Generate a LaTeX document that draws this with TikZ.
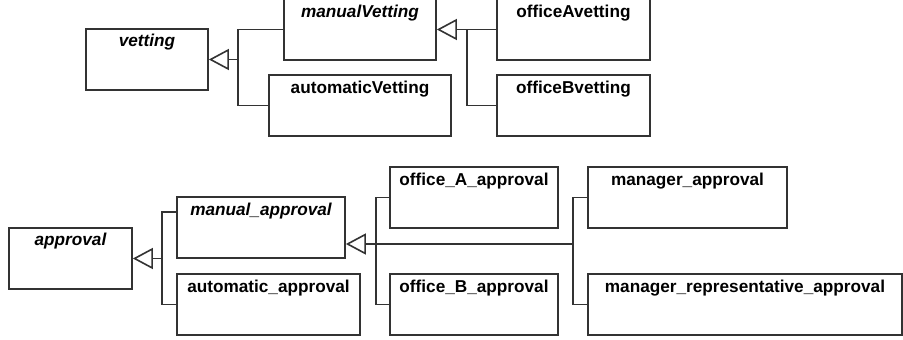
\documentclass[tikz,border=0pt]{standalone}
\usepackage{fontspec}
\setmainfont{Liberation Sans}
\usetikzlibrary{arrows.meta,calc}
\definecolor{umlline}{HTML}{333333}
\tikzset{
  x=1pt, y=-1pt,
  classbox/.style={draw=umlline, line width=1.7pt, fill=white, inner sep=0pt, minimum height=61pt},
  classname/.style={anchor=base, inner sep=0pt, font=\fontsize{17.2}{19}\selectfont\bfseries},
  abstractname/.style={classname, font=\fontsize{17.2}{19}\selectfont\bfseries\itshape},
  assoc/.style={draw=umlline, line width=1.3pt},
  gen/.style={assoc, -{Triangle[open, length=20pt, width=21pt, line width=1.6pt]}},
}
\begin{document}
\begin{tikzpicture}
\useasboundingbox (0,0) rectangle (903,340);
\fill[white] (0,0) rectangle (903,340);

% ---- vetting hierarchy ----
\node[classbox, minimum width=122pt] (vetting) at (147,59.5) {};
\node[classbox, minimum width=152pt] (manualVetting) at (360,29.5) {};
\node[classbox, minimum width=182pt] (automaticVetting) at (360,105.5) {};
\node[classbox, minimum width=153pt] (officeAvetting) at (573.5,29.5) {};
\node[classbox, minimum width=153pt] (officeBvetting) at (573.5,105.5) {};

\node[abstractname] at ($(vetting.north)+(0,18)$) {vetting};
\node[abstractname] at ($(manualVetting.north)+(0,19)$) {manualVetting};
\node[classname] at ($(automaticVetting.north)+(0,19)$) {automaticVetting};
\node[classname] at ($(officeAvetting.north)+(0,19)$) {officeAvetting};
\node[classname] at ($(officeBvetting.north)+(0,19)$) {officeBvetting};

\coordinate (jv1) at (238,59.5);
\draw[gen] (jv1) -- (vetting.east);
\draw[assoc] (manualVetting.west) -- (jv1 |- manualVetting.west)
  -- (jv1 |- automaticVetting.west) -- (automaticVetting.west);

\coordinate (jv2) at (467,29.5);
\draw[gen] (jv2) -- (manualVetting.east);
\draw[assoc] (officeAvetting.west) -- (jv2 |- officeAvetting.west)
  -- (jv2 |- officeBvetting.west) -- (officeBvetting.west);

% ---- approval hierarchy ----
\node[classbox, minimum width=123pt] (approval) at (70.5,258.5) {};
\node[classbox, minimum width=168pt] (manualApproval) at (261,227.5) {};
\node[classbox, minimum width=183pt] (automaticApproval) at (268.5,304.5) {};
\node[classbox, minimum width=168pt] (officeAApproval) at (474,197.5) {};
\node[classbox, minimum width=168pt] (officeBApproval) at (474,304.5) {};
\node[classbox, minimum width=199pt] (managerApproval) at (687.5,197.5) {};
\node[classbox, minimum width=314pt] (managerRepApproval) at (745,304.5) {};

\node[abstractname] at ($(approval.north)+(0,18)$) {approval};
\node[abstractname] at ($(manualApproval.north)+(0,19)$) {manual\_approval};
\node[classname] at ($(automaticApproval.north)+(0,19)$) {automatic\_approval};
\node[classname] at ($(officeAApproval.north)+(0,19)$) {office\_A\_approval};
\node[classname] at ($(officeBApproval.north)+(0,19)$) {office\_B\_approval};
\node[classname] at ($(managerApproval.north)+(0,19)$) {manager\_approval};
\node[classname] at ($(managerRepApproval.north)+(0,19)$) {manager\_representative\_approval};

\coordinate (ja1) at (162,258.5);
\coordinate (ma-top) at (manualApproval.west |- 0,212);
\draw[gen] (ja1) -- (approval.east);
\draw[assoc] (ma-top) -- (ja1 |- ma-top)
  -- (ja1 |- automaticApproval.west) -- (automaticApproval.west);

\coordinate (ma-tip) at (manualApproval.east |- 0,244);
\coordinate (ja3) at (573,244);
\coordinate (ja2) at (376,244);
\draw[gen] (ja3) -- (ma-tip);
\draw[assoc] (officeAApproval.west) -- (ja2 |- officeAApproval.west)
  -- (ja2 |- officeBApproval.west) -- (officeBApproval.west);
\draw[assoc] (managerApproval.west) -- (ja3 |- managerApproval.west)
  -- (ja3 |- managerRepApproval.west) -- (managerRepApproval.west);
\end{tikzpicture}
\end{document}
